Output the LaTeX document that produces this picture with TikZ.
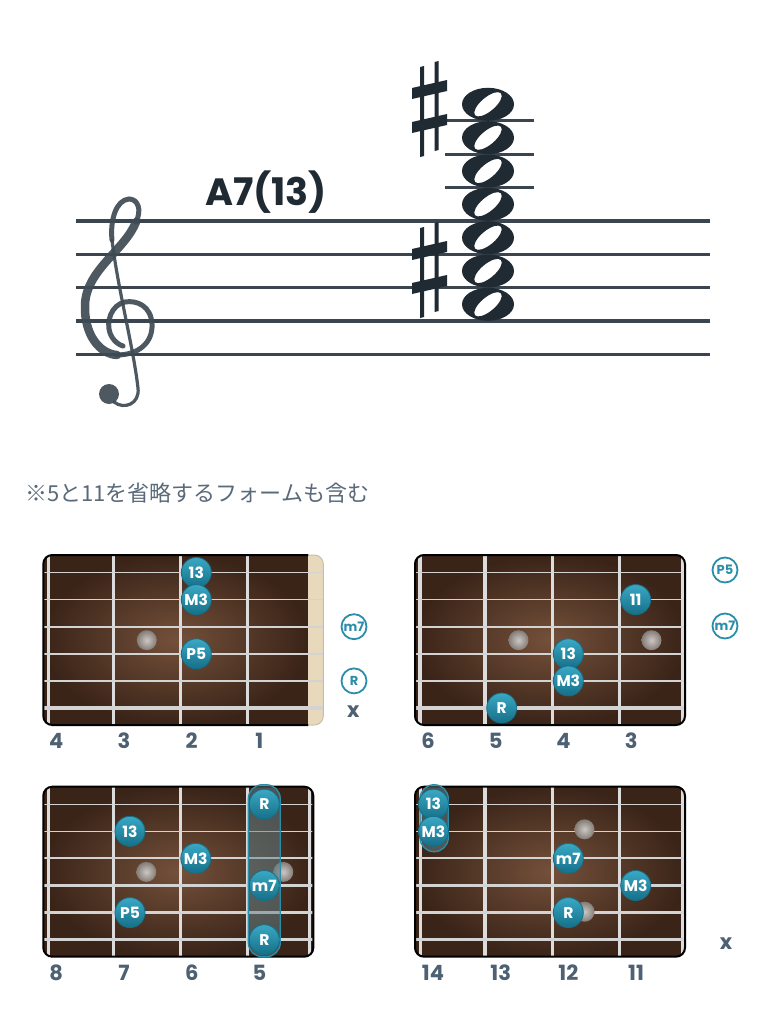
\documentclass[tikz,border=0pt]{standalone}
\usepackage{fontspec}
\setmainfont{Poppins}
\newfontfamily\cjk{Noto Sans CJK JP}
\definecolor{ink}{HTML}{1F2A33}
\definecolor{staffgray}{HTML}{3A454F}
\definecolor{clefgray}{HTML}{3E4A54}
\definecolor{slate}{HTML}{4D6173}
\definecolor{remarkgray}{HTML}{5A6A7A}
\definecolor{woodlight}{HTML}{74503A}
\definecolor{wooddark}{HTML}{3A2418}
\definecolor{wire}{HTML}{DCDCDC}
\definecolor{nutcol}{HTML}{E9D9BC}
\definecolor{tealdark}{HTML}{166F88}
\definecolor{teallight}{HTML}{3AA8C4}
\definecolor{tealline}{HTML}{2A8EAA}
\definecolor{inlaycol}{HTML}{A49A93}
\tikzset{staffline/.style={
    staffgray,
    line width=3.2pt}}
\tikzset{fretwire/.style={
    wire,
    line width=3.5pt}}
\tikzset{gstring/.style={
    wire!90!gray,
    line width=#1}}
\tikzset{boardedge/.style={
    black,
    line width=2pt,
    rounded corners=9pt}}
\tikzset{note/.style={
    circle,
    minimum size=30pt,
    inner sep=0pt,
    draw=tealdark,
    line width=0.8pt,
    top color=teallight,
    bottom color=tealdark,
    text=white,
    font=\bfseries\fontsize{15.5}{15.5}\selectfont}}
\tikzset{opennote/.style={
    circle,
    minimum size=25pt,
    inner sep=0pt,
    draw=tealline,
    line width=1.8pt,
    fill=white,
    text=tealline,
    font=\bfseries\fontsize{13}{13}\selectfont}}
\tikzset{inlay/.style={
    circle,
    minimum size=20pt,
    inner sep=0pt,
    inner color=inlaycol!55!white,
    outer color=inlaycol!80!black}}
\tikzset{fretnum/.style={
    text=slate,
    font=\bfseries\fontsize{21}{21}\selectfont}}
\tikzset{mute/.style={
    text=slate,
    font=\bfseries\fontsize{21}{21}\selectfont}}
\tikzset{barre/.style={
    rounded corners=14pt,
    fill=tealline!35!gray,
    fill opacity=0.5,
    draw=tealline,
    line width=1.3pt}}
\tikzset{sharpsign/.pic={
    \fill[ink] (-10,-43) -- (-6,-44) -- (-6,46) -- (-10,47) -- cycle;
    \fill[ink] (4.5,-48) -- (8.5,-49) -- (8.5,40) -- (4.5,41) -- cycle;
    \fill[ink] (-18,-22) -- (17,-30) -- (17,-19) -- (-18,-11) -- cycle;
    \fill[ink] (-18,12) -- (17,4) -- (17,15) -- (-18,23) -- cycle;}}

\begin{document}
\begin{tikzpicture}[x=1pt, y=-1pt]

\useasboundingbox[fill=white] (0,0) rectangle (780,1022);

% staff
\foreach \i in {0,...,4}
  \draw[staffline] (76,{221+33.3*\i}) -- (710,{221+33.3*\i});
\foreach \y in {121,154.3,187.7}
  \draw[staffline, line width=3pt] (445,\y) -- (534,\y);

% treble clef
\begin{scope}[clefgray, opacity=0.92, line cap=round]
\draw[line width=8.5pt] (136,222) .. controls (125,250) and (86,270) .. (85,305)
  .. controls (84,335) and (100,354) .. (117,355);
\draw[line width=5pt] (117,355) .. controls (138,355) and (153,343) .. (152,324)
  .. controls (151,306) and (137,300) .. (125,302)
  .. controls (111,305) and (106,322) .. (110,333)
  .. controls (113,341) and (119,345) .. (123,346);
\draw[line width=5pt] (136,222) .. controls (142,210) and (138,199) .. (129,199)
  .. controls (116,200) and (110,220) .. (112,240);
\draw[line width=3.2pt] (112,240) .. controls (118,290) and (133,345) .. (138,388)
  .. controls (140,404) and (124,410) .. (114,402);
\fill (109,394) circle (10pt);
\end{scope}

\node[text=ink, font=\bfseries\fontsize{38}{38}\selectfont] (chordname) at (266,192) {A7(13)};

% chord
\foreach \y in {104.3,137.7,171,204.3,237.7,271,304.3}
  \fill[ink, even odd rule] (488,\y) ellipse [x radius=26pt, y radius=16.5pt]
    (488,\y) ellipse [x radius=17pt, y radius=7pt, rotate=40];
\pic at (430,110) {sharpsign};
\pic at (430,271) {sharpsign};

\node[anchor=west, inner sep=0pt, text=remarkgray, font=\cjk\fontsize{22}{22}\selectfont] (remark) at (25,493) {※5と11を省略するフォームも含む};

% board 1
\begin{scope}[shift={(43.3,555)}]
\begin{scope}
\clip[rounded corners=9pt] (0,0) rectangle (280,170);
\shade[inner color=woodlight, outer color=wooddark] (0,0) rectangle (265,170);
\fill[nutcol] (265,0) rectangle (280,170);
\foreach \x in {5,70,137,204}
  \draw[fretwire] (\x,0) -- (\x,170);
\foreach \s/\w in {1/1.2,2/1.5,3/1.9,4/2.3,5/2.7,6/3.1}
  \draw[gstring=\w pt] (0,{17.5+27.1*(\s-1)}) -- (280,{17.5+27.1*(\s-1)});
\end{scope}
\draw[boardedge] (265,0) -- (0,0) -- (0,170) -- (265,170);
\draw[nutcol!70!gray, line width=1pt, rounded corners=9pt] (265,0) -- (280,0) -- (280,170) -- (265,170);
\node[inlay] (aI) at (103.5,85.2) {};
\node[note] (aT) at (153,17.5) {13};
\node[note] (aM) at (153,44.6) {M3};
\node[note] (aP) at (153,98.8) {P5};
\node[opennote] (am) at (310.7,71.7) {m7};
\node[opennote] (aR) at (310.7,125.9) {R};
\node[mute] (ax) at (310,157) {x};
\foreach \n [count=\k from 0] in {4,3,2,1}
  \node[fretnum] (af\n) at ({13+67.7*\k},186) {\n};
\end{scope}

% board 2
\begin{scope}[shift={(415,555)}]
\begin{scope}
\clip[rounded corners=9pt] (0,0) rectangle (270,170);
\shade[inner color=woodlight, outer color=wooddark] (0,0) rectangle (270,170);
\foreach \x in {5,70,137.3,204.3,267.7}
  \draw[fretwire] (\x,0) -- (\x,170);
\foreach \s/\w in {1/1.2,2/1.5,3/1.9,4/2.3,5/2.7,6/3.1}
  \draw[gstring=\w pt] (0,{17.5+27.1*(\s-1)}) -- (270,{17.5+27.1*(\s-1)});
\end{scope}
\draw[boardedge] (0,0) rectangle (270,170);
\node[inlay] (bI) at (103.5,85.2) {};
\node[inlay] (bJ) at (236.5,85.2) {};
\node[note] (bE) at (220.7,44.6) {11};
\node[note] (bT) at (153.3,98.8) {13};
\node[note] (bM) at (153.3,125.9) {M3};
\node[note] (bR) at (86.7,153) {R};
\node[opennote] (bP) at (310,15) {P5};
\node[opennote] (bm) at (310,71) {m7};
\foreach \n [count=\k from 0] in {6,5,4,3}
  \node[fretnum] (bf\n) at ({13+67.7*\k},186) {\n};
\end{scope}

% board 3
\begin{scope}[shift={(43.3,786.7)}]
\begin{scope}
\clip[rounded corners=9pt] (0,0) rectangle (270,170);
\shade[inner color=woodlight, outer color=wooddark] (0,0) rectangle (270,170);
\foreach \x in {5,70,137,204,266}
  \draw[fretwire] (\x,0) -- (\x,170);
\foreach \s/\w in {1/1.2,2/1.5,3/1.9,4/2.3,5/2.7,6/3.1}
  \draw[gstring=\w pt] (0,{17.5+27.1*(\s-1)}) -- (270,{17.5+27.1*(\s-1)});
\end{scope}
\draw[boardedge] (0,0) rectangle (270,170);
\node[inlay] (cI) at (103,85.2) {};
\node[inlay] (cJ) at (240,85.2) {};
\draw[barre] (205,-2) rectangle (237,170);
\node[note] (cR) at (221,17.5) {R};
\node[note] (cT) at (86.7,44.6) {13};
\node[note] (cM) at (152.5,71.7) {M3};
\node[note] (cm) at (221,98.8) {m7};
\node[note] (cP) at (86.7,125.9) {P5};
\node[note] (cS) at (221,153) {R};
\foreach \n [count=\k from 0] in {8,7,6,5}
  \node[fretnum] (cf\n) at ({13+67.7*\k},186) {\n};
\end{scope}

% board 4
\begin{scope}[shift={(415,786.7)}]
\begin{scope}
\clip[rounded corners=9pt] (0,0) rectangle (270,170);
\shade[inner color=woodlight, outer color=wooddark] (0,0) rectangle (270,170);
\foreach \x in {5.7,70,137.3,204.3,267.7}
  \draw[fretwire] (\x,0) -- (\x,170);
\foreach \s/\w in {1/1.2,2/1.5,3/1.9,4/2.3,5/2.7,6/3.1}
  \draw[gstring=\w pt] (0,{17.5+27.1*(\s-1)}) -- (270,{17.5+27.1*(\s-1)});
\end{scope}
\draw[boardedge] (0,0) rectangle (270,170);
\node[inlay] (dI) at (169.5,42.6) {};
\node[inlay] (dJ) at (169.5,125) {};
\draw[barre] (5,-2) rectangle (33.3,65);
\node[note] (dT) at (18.5,17.5) {13};
\node[note] (dM) at (18.5,44.6) {M3};
\node[note] (dm) at (153.3,71.7) {m7};
\node[note] (dN) at (220.7,98.8) {M3};
\node[note] (dR) at (153.3,125.9) {R};
\node[mute] (dx) at (311,157) {x};
\foreach \n [count=\k from 0] in {14,13,12,11}
  \node[fretnum] (df\n) at ({18+67.7*\k},186) {\n};
\end{scope}

\end{tikzpicture}
\end{document}
